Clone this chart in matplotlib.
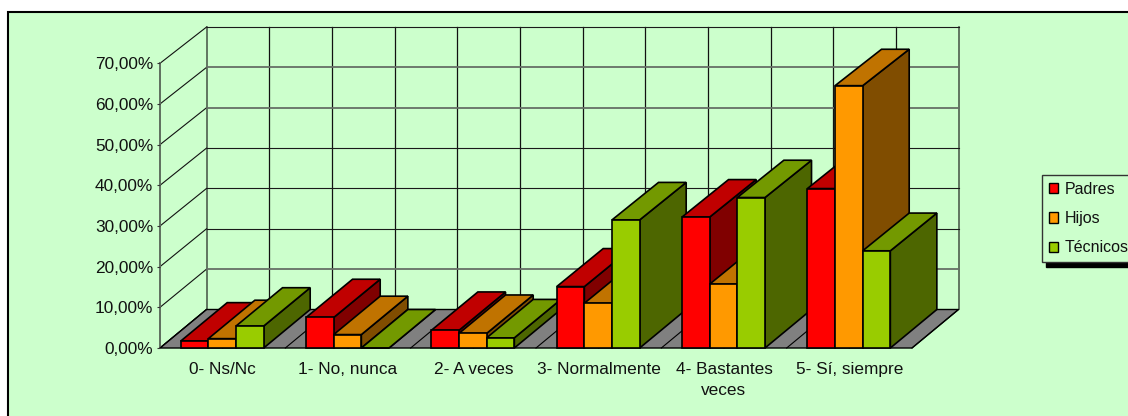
import matplotlib
matplotlib.use("Agg")
import matplotlib.pyplot as plt
from matplotlib.patches import Polygon, Rectangle, Patch

plt.rcParams['font.family'] = ['Liberation Sans', 'DejaVu Sans']

categories = ["0- Ns/Nc", "1- No, nunca", "2- A veces", "3- Normalmente",
              "4- Bastantes\nveces", "5- Sí, siempre"]
padres = [1.7, 7.5, 4.35, 15.1, 32.2, 39.2]
hijos = [2.3, 3.3, 3.6, 11.0, 15.7, 64.5]
tecnicos = [5.4, 0.0, 2.5, 31.5, 37.0, 23.9]
series_names = ["Padres", "Hijos", "Técnicos"]
series_values = [padres, hijos, tecnicos]
front_colors = ["#FF0000", "#FF9900", "#99CC00"]
top_colors = ["#C00000", "#C07300", "#739900"]
side_colors = ["#800000", "#804D00", "#4D6600"]
value_ticks = [0, 10, 20, 30, 40, 50, 60, 70]
grid_colors = ["#000000", "#666f66", "#1a1a1a", "#1a1a1a", "#1a1a1a", "#666f66", "#666f66", "#1a1a1a"]
grid_widths = [0.8, 1.3, 0.8, 0.8, 0.8, 1.3, 1.3, 0.8]

W, H = 1128, 416
BG = "#CCFFCC"
fig = plt.figure(figsize=(W / 100, H / 100), dpi=100, facecolor="white")

# chart area (runs off the right and bottom edges of the image)
fig.add_artist(Rectangle((7.5 / W, -0.02), 1.02, 1 - 12.5 / H + 0.02, transform=fig.transFigure,
                         facecolor=BG, edgecolor="black", linewidth=1.5, zorder=-1))

# front plane of the 3-D box: x 160..912 px, 0..70 % at y 348..63.3 px
L, R, B, T = 160, 912, 348, 63.3
ax = fig.add_axes([L / W, 1 - B / H, (R - L) / W, (B - T) / H])
ax.patch.set_alpha(0)
ax.set_xlim(0, 6)
ax.set_ylim(0, 70)

DX = 46.5 / 125.33   # depth shift in category units
DY = 38.5 / 4.067    # depth shift in value units
SHRINK = 0.992       # slight perspective of the back wall


def proj(x, v, d=0.0):
    """Front-plane data coordinates of a point (x, v) at depth d (0 front, 1 back)."""
    return (x + d * DX, v * (1 - d * (1 - SHRINK)) + d * DY)


# floor
ax.add_patch(Polygon([proj(0, 0), proj(6, 0), proj(6, 0, 1), proj(0, 0, 1)], closed=True,
                     facecolor="#808080", edgecolor="black", linewidth=1.0, clip_on=False, zorder=1))
for k in range(13):
    x = k / 2
    p, q = proj(x, 0), proj(x, 0, 1)
    ax.plot([p[0], q[0]], [p[1], q[1]], color="black", lw=0.8, clip_on=False, zorder=1.1)
    r = proj(x, 70, 1)
    edge = k in (0, 12)
    ax.plot([q[0], r[0]], [q[1], r[1]], color="#4d5f4d" if edge else "#111111",
            lw=1.2 if edge else 0.9, clip_on=False, zorder=0.9)

# walls' horizontal grid lines
for v, c, w in zip(value_ticks, grid_colors, grid_widths):
    a, b, e = proj(0, v), proj(0, v, 1), proj(6, v, 1)
    ax.plot([a[0], b[0]], [a[1], b[1]], color="#111111", lw=0.8, clip_on=False, zorder=0.9)
    if v > 0:
        ax.plot([b[0], e[0]], [b[1], e[1]], color=c, lw=w, clip_on=False, zorder=0.9)

# bars
BAR_W = 27.66 / 125.33
OFFSET = 20.7 / 125.33
z = 3
for i in range(len(categories)):
    for s, vals in enumerate(series_values):
        v = vals[i]
        x0 = i + OFFSET + s * BAR_W
        x1 = x0 + BAR_W
        kw = dict(closed=True, edgecolor="black", linewidth=1.2, joinstyle="miter",
                  clip_on=False, zorder=z)
        ax.add_patch(Polygon([proj(x1, 0), proj(x1, 0, 1), proj(x1, v, 1), proj(x1, v)],
                             facecolor=side_colors[s], **kw))
        ax.add_patch(Polygon([proj(x0, v), proj(x1, v), proj(x1, v, 1), proj(x0, v, 1)],
                             facecolor=top_colors[s], **kw))
        ax.add_patch(Rectangle((x0, 0), BAR_W, v, facecolor=front_colors[s], edgecolor="black",
                               linewidth=1.2, joinstyle="miter", clip_on=False, zorder=z))
        z += 0.01

# axes
for name in ("top", "right", "bottom"):
    ax.spines[name].set_visible(False)
ax.spines["left"].set_color("#5f6f5f")
ax.spines["left"].set_linewidth(1.4)
ax.spines["left"].set_zorder(1)
FS = 12.4
ax.set_yticks(value_ticks)
ax.set_yticklabels([f"{v},00%" for v in value_ticks], fontsize=FS, color="#111111")
ax.tick_params(axis="y", length=2.2, width=0.8, pad=2.6, color="#333333")
ax.set_xticks([i + 0.5 for i in range(len(categories))])
ax.set_xticklabels(categories, fontsize=FS, color="#111111", linespacing=1.55)
ax.tick_params(axis="x", length=0, pad=10.0)

# legend
handles = [Patch(facecolor=c, edgecolor="black", linewidth=1.0) for c in front_colors]
leg = fig.legend(handles, series_names, loc="upper left",
                 bbox_to_anchor=(1042 / W, 1 - 175 / H), fontsize=11.5,
                 frameon=True, fancybox=False, framealpha=1, facecolor=BG,
                 edgecolor="#333333", shadow={"color": "black", "alpha": 1, "ox": 3, "oy": -3.5},
                 handlelength=0.6, handleheight=0.6, handletextpad=0.38, labelspacing=0.9,
                 borderpad=0.42, borderaxespad=0, labelcolor="#111111")
leg.get_frame().set_linewidth(1.0)

fig.savefig("out.png", dpi=100, facecolor=fig.get_facecolor())
